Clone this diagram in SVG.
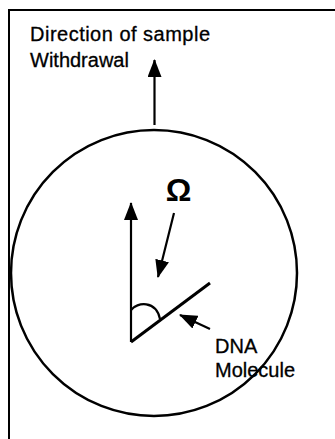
<svg xmlns="http://www.w3.org/2000/svg" width="335" height="439" viewBox="0 0 335 439">
<defs>
<style>
.t{font-family:"Liberation Sans",Arial,Helvetica,sans-serif;font-size:20px;fill:#000;stroke:#000;stroke-width:0.3}
.ln{stroke:#000;stroke-width:2.2;fill:none}
</style>
<marker id="ah" viewBox="0 0 18 14" refX="17" refY="7" markerWidth="18" markerHeight="14" markerUnits="userSpaceOnUse" orient="auto">
<path d="M0,0 L18,7 L0,14 Z" fill="#000"/>
</marker>
</defs>
<rect width="335" height="439" fill="#fff"/>
<g id="frame">
<path d="M9,439 L9,10 L335,10" stroke="#000" stroke-width="2" fill="none"/>
</g>
<g id="title">
<text class="t" x="30" y="40.5" textLength="180" lengthAdjust="spacing">Direction of sample</text>
<text class="t" x="30" y="66.5">Withdrawal</text>
</g>
<g id="sample">
<circle cx="154" cy="273" r="143" stroke="#000" stroke-width="2.5" fill="none"/>
</g>
<g id="omega">
<text x="178.5" y="201" text-anchor="middle" style="font-family:'Liberation Sans',Arial,sans-serif;font-size:32px;font-weight:bold">Ω</text>
</g>
<g id="dna-label">
<text class="t" x="215" y="353">DNA</text>
<text class="t" x="215" y="377">Molecule</text>
</g>
<g id="connectors">
<line class="ln" x1="154.5" y1="125" x2="154.5" y2="60" marker-end="url(#ah)"/>
<line class="ln" x1="131" y1="342" x2="131" y2="203" marker-end="url(#ah)"/>
<line class="ln" x1="174" y1="213" x2="158" y2="277" marker-end="url(#ah)"/>
<line class="ln" x1="210" y1="329" x2="180" y2="315" marker-end="url(#ah)"/>
<line x1="131" y1="342" x2="210" y2="283" stroke="#000" stroke-width="3"/>
<path class="ln" d="M131,310 C137,302 156,300 160,319" stroke-width="2"/>
</g>
</svg>
